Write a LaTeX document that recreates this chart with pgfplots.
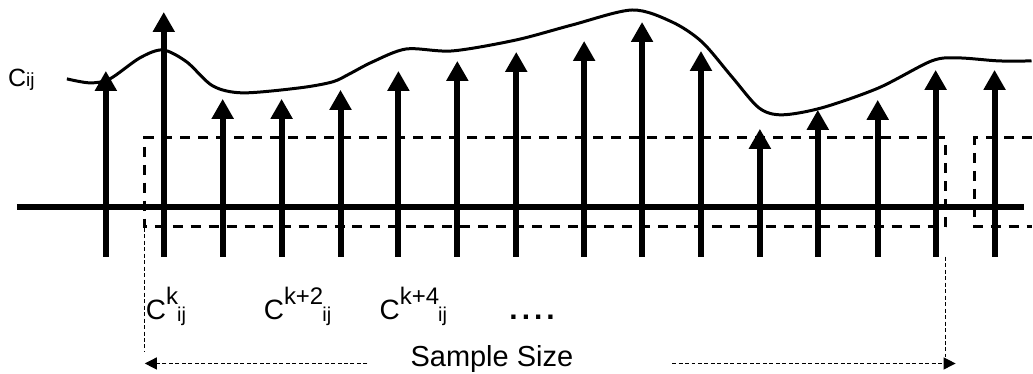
\documentclass[border=0pt]{standalone}
\usepackage{pgfplots}
\pgfplotsset{compat=1.18}
\usepackage{pgfplotstable}
\usetikzlibrary{arrows.meta}
\usepackage{fontspec}
\setmainfont{Liberation Sans}
\definecolor{thin}{HTML}{555555}
\newcommand{\Clab}[1]{C\raisebox{15pt}{\fontsize{24}{24}\selectfont k#1}\hspace{-1pt}\raisebox{-2pt}{\fontsize{20}{20}\selectfont ij}}

\pgfplotstableread{
x base tip
106 257 71
164 257 12
223 257 99
282 257 99
341 257 90
399 257 71
458 257 61
517 257 52
585 257 41
643 257 22
702 257 51
761 257 129
819 257 110
879 257 100
937 257 70
996 257 70
}\stems

\begin{document}
\begin{tikzpicture}
\begin{axis}[
  scale only axis, width=1033pt, height=374pt,
  xmin=0, xmax=1033, ymin=0, ymax=374, y dir=reverse,
  hide axis, clip=false,
]
\addplot[draw=none, forget plot] coordinates {(0,0) (1033,374)};
% baseline
\addplot[black, line width=6pt] coordinates {(17,207) (1025,207)};
% dashed windows
\addplot[black, line width=3pt, dash pattern=on 10pt off 8pt] coordinates {(947,227) (947,138) (145,138) (145,227) (947,227)};
\addplot[black, line width=3pt, dash pattern=on 10pt off 8pt] coordinates {(1033,138) (976,138) (976,227) (1033,227)};
% stems
\addplot[black, line width=6pt, -{Triangle[width=21pt,length=20pt]},
  quiver={u=0, v=\thisrow{tip}-\thisrow{base}}] table[x=x, y=base] \stems;
% signal curve
\addplot[black, line width=3pt, smooth, tension=0.5] coordinates {
(67,79) (90,83) (110,79) (140,58) (163,50) (187,62) (213,86) (243,93)
(300,88) (333,82) (350,74) (373,62) (407,49) (453,51) (517,40) (573,25)
(633,10) (673,22) (703,42) (733,77) (760,108) (783,115) (823,108) (880,88)
(933,61) (960,58) (1000,61) (1033,61)};
% sample size markers
\addplot[thin, line width=1.2pt, dash pattern=on 4pt off 2.5pt] coordinates {(145,228) (145,352)};
\addplot[thin, line width=1.2pt, dash pattern=on 4pt off 2.5pt] coordinates {(947,257) (947,358)};
\addplot[thin, line width=1.2pt, dash pattern=on 4pt off 2.5pt, -{Triangle[width=12pt,length=12pt]}] coordinates {(368,364) (145,364)};
\addplot[thin, line width=1.2pt, dash pattern=on 4pt off 2.5pt, -{Triangle[width=12pt,length=12pt]}] coordinates {(673,364) (957,364)};
% labels
\node[anchor=base west, inner sep=0pt, font=\fontsize{25}{30}\selectfont] at (axis cs:8,87) {C{\fontsize{19}{19}\selectfont ij}};
\node[anchor=base west, inner sep=0pt, font=\fontsize{28}{32}\selectfont] at (axis cs:146,320) {\Clab{}};
\node[anchor=base west, inner sep=0pt, font=\fontsize{28}{32}\selectfont] at (axis cs:264,320) {\Clab{+2}};
\node[anchor=base west, inner sep=0pt, font=\fontsize{28}{32}\selectfont] at (axis cs:380,320) {\Clab{+4}};
\node[anchor=base west, inner sep=0pt, font=\fontsize{30}{36}\selectfont\bfseries] at (axis cs:510,320) {.\hspace{4pt}.\hspace{4pt}.\hspace{4pt}.};
\node[anchor=base west, inner sep=0pt, font=\fontsize{29}{34}\selectfont] at (axis cs:411,367) {Sample Size};
\end{axis}
\end{tikzpicture}
\end{document}
